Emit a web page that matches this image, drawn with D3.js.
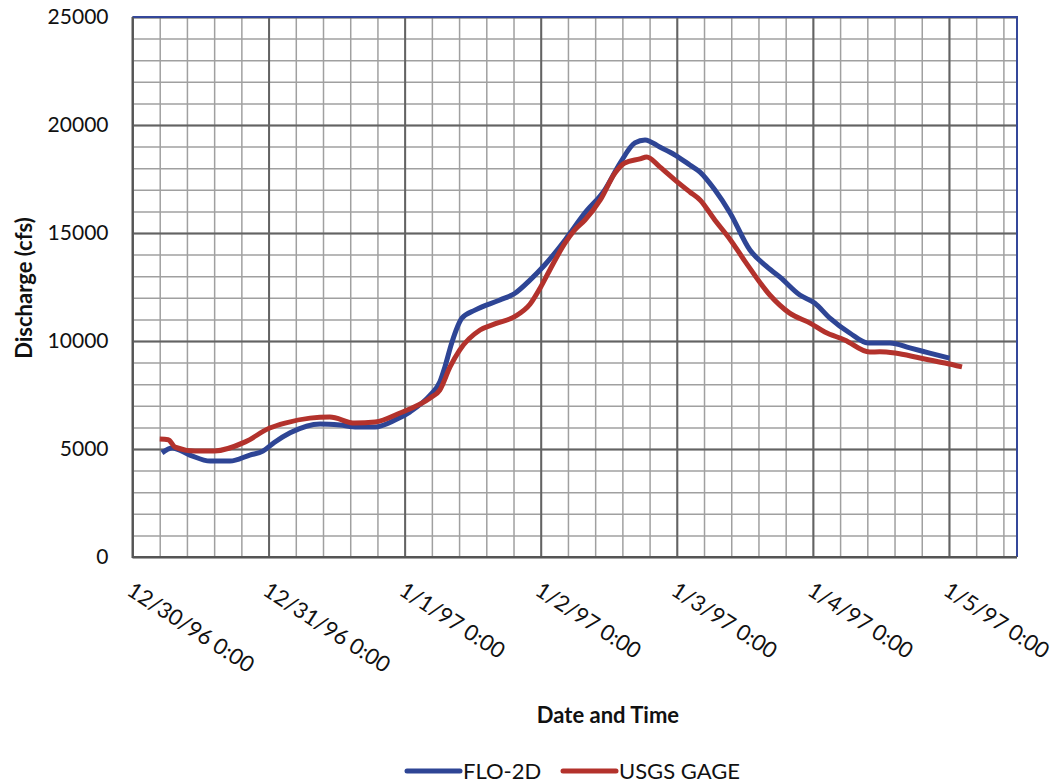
<!DOCTYPE html>
<html>
<head>
<meta charset="utf-8">
<script src="https://cdn.jsdelivr.net/npm/d3@7"></script>
<style>
  body { margin: 0; background: #fff; }
  text { font-family: Lato, "Open Sans", sans-serif; fill: #111; }
</style>
</head>
<body>
<svg id="chart" width="1059" height="784"></svg>
<script>
// hours after 12/30/96 0:00
const dayLabels = ["12/30/96 0:00", "12/31/96 0:00", "1/1/97 0:00", "1/2/97 0:00", "1/3/97 0:00", "1/4/97 0:00", "1/5/97 0:00"]
const yTicks = [0, 5000, 10000, 15000, 20000, 25000]

const floHours = [5.2, 7.0, 10.1, 13.7, 17.2, 20.7, 23.0, 25.0, 27.8, 33.1, 36.6, 39.6, 42.8, 46.3, 48.9, 52.5, 54.2, 55.1, 56.3, 58.1, 60.4, 64.8, 67.4, 70.1, 72.7, 76.3, 79.8, 83.3, 86.0, 88.6, 90.4, 93.0, 95.7, 98.3, 100.1, 102.7, 105.4, 108.9, 111.5, 114.2, 117.7, 120.3, 123.0, 126.5, 129.7, 133.6, 137.1, 140.6, 144.1]
const floQ = [4820, 5050, 4720, 4440, 4440, 4720, 4900, 5300, 5750, 6160, 6110, 6020, 6020, 6340, 6710, 7500, 8100, 8800, 9910, 11060, 11430, 11900, 12200, 12820, 13520, 14680, 15930, 17000, 18240, 19170, 19310, 18980, 18610, 18150, 17820, 17000, 15930, 14210, 13520, 12960, 12130, 11760, 11060, 10370, 9910, 9910, 9680, 9440, 9210]

const usgsHours = [4.8, 6.3, 7.5, 11.0, 14.5, 19.8, 24.2, 26.9, 31.3, 34.8, 39.2, 42.8, 47.2, 52.5, 54.2, 56.0, 57.7, 61.3, 63.9, 67.4, 70.1, 72.0, 73.6, 76.3, 78.0, 79.8, 82.5, 85.1, 86.8, 89.5, 90.7, 93.0, 95.7, 98.3, 100.1, 102.7, 105.4, 108.0, 112.4, 115.9, 119.5, 122.1, 125.6, 130.0, 131.8, 134.5, 138.9, 143.3, 146.3]
const usgsQ = [5460, 5430, 5090, 4910, 4910, 5320, 5970, 6200, 6430, 6480, 6200, 6250, 6670, 7360, 7730, 8800, 9580, 10510, 10790, 11130, 11700, 12500, 13290, 14540, 15140, 15600, 16530, 17780, 18240, 18430, 18520, 18060, 17450, 16900, 16530, 15600, 14700, 13700, 12130, 11290, 10830, 10420, 10050, 9490, 9500, 9440, 9210, 8980, 8800]

const margin = {left: 132.5, top: 17, right: 1017, bottom: 557}
const svg = d3.select("#chart")

const x = d3.scaleLinear().domain([0, 156]).range([margin.left, margin.right])
const y = d3.scaleLinear().domain([0, 25000]).range([margin.bottom, margin.top])

const W = margin.right - margin.left
const H = margin.bottom - margin.top

// minor grid
svg.append("g")
    .attr("transform", `translate(0,${margin.bottom})`)
    .call(d3.axisBottom(x).tickValues(d3.range(0, 156.1, 4.8)).tickSize(-H).tickFormat(""))
    .call(g => g.select(".domain").remove())
    .selectAll("line").attr("stroke", "#a0a0a0").attr("stroke-width", 1.5)

svg.append("g")
    .attr("transform", `translate(${margin.left},0)`)
    .call(d3.axisLeft(y).tickValues(d3.range(0, 25001, 1000)).tickSize(-W).tickFormat(""))
    .call(g => g.select(".domain").remove())
    .selectAll("line").attr("stroke", "#a0a0a0").attr("stroke-width", 1.5)

// major grid
svg.append("g")
    .attr("transform", `translate(0,${margin.bottom})`)
    .call(d3.axisBottom(x).tickValues(d3.range(0, 145, 24)).tickSize(-H).tickFormat(""))
    .call(g => g.select(".domain").remove())
    .selectAll("line").attr("stroke", "#636363").attr("stroke-width", 2)

svg.append("g")
    .attr("transform", `translate(${margin.left},0)`)
    .call(d3.axisLeft(y).tickValues(yTicks).tickSize(-W).tickFormat(""))
    .call(g => g.select(".domain").remove())
    .selectAll("line").attr("stroke", "#636363").attr("stroke-width", 2)

// frame: top and right in blue
svg.append("path")
    .attr("d", `M${margin.left},${margin.top}H${margin.right}V${margin.bottom}`)
    .attr("fill", "none").attr("stroke", "#34479a").attr("stroke-width", 2)
svg.append("path")
    .attr("d", `M${margin.left},${margin.top}V${margin.bottom}H${margin.right}`)
    .attr("fill", "none").attr("stroke", "#555").attr("stroke-width", 2)

// y tick labels
svg.append("g")
    .attr("transform", `translate(${margin.left - 24},0)`)
    .call(d3.axisLeft(y).tickValues(yTicks).tickSize(0).tickPadding(0).tickFormat(d3.format("d")))
    .call(g => g.select(".domain").remove())
    .selectAll("text")
        .attr("font-size", 21)
        .attr("font-family", "Lato, sans-serif")
        .attr("fill", "#111")

// x tick labels, rotated
svg.append("g")
    .selectAll("text")
    .data(dayLabels)
    .join("text")
        .attr("transform", (d, i) => `translate(${x(i * 24) - 7},594) rotate(33)`)
        .attr("font-size", 22)
        .text(d => d)

// lines
const line = d3.line()
    .x(d => x(d[0]))
    .y(d => y(d[1]))
    .curve(d3.curveMonotoneX)

svg.append("path")
    .datum(floHours.map((h, i) => [h, floQ[i]]))
    .attr("d", line)
    .attr("fill", "none")
    .attr("stroke", "#2e4595")
    .attr("stroke-width", 5)
    .attr("stroke-linejoin", "round")

svg.append("path")
    .datum(usgsHours.map((h, i) => [h, usgsQ[i]]))
    .attr("d", line)
    .attr("fill", "none")
    .attr("stroke", "#b3322c")
    .attr("stroke-width", 5)
    .attr("stroke-linejoin", "round")

// axis titles
svg.append("text")
    .attr("x", 608).attr("y", 723)
    .attr("text-anchor", "middle")
    .attr("font-weight", "bold")
    .attr("font-size", 22)
    .text("Date and Time")

svg.append("text")
    .attr("transform", "translate(32,288) rotate(-90)")
    .attr("text-anchor", "middle")
    .attr("font-weight", "bold")
    .attr("font-size", 22)
    .text("Discharge (cfs)")

// legend
const legend = [
    {name: "FLO-2D", color: "#2e4595", x0: 407},
    {name: "USGS GAGE", color: "#b3322c", x0: 563}
]
const lg = svg.append("g").selectAll("g").data(legend).join("g")
lg.append("line")
    .attr("x1", d => d.x0).attr("x2", d => d.x0 + 53)
    .attr("y1", 771).attr("y2", 771)
    .attr("stroke", d => d.color).attr("stroke-width", 5).attr("stroke-linecap", "round")
lg.append("text")
    .attr("x", d => d.x0 + 56).attr("y", 779)
    .attr("font-size", 22)
    .text(d => d.name)
</script>
</body>
</html>
